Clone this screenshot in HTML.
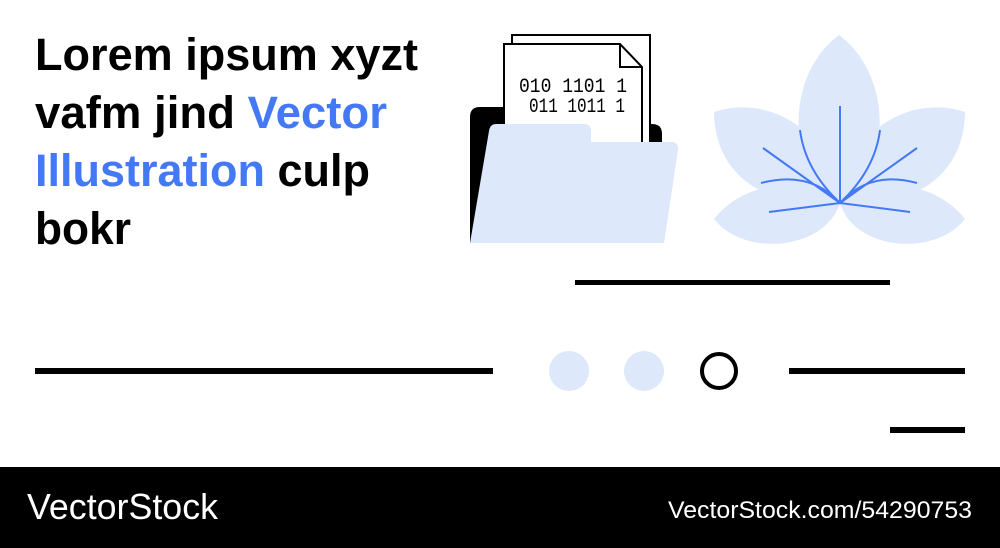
<!DOCTYPE html>
<html><head><meta charset="utf-8"><style>
html,body{margin:0;padding:0;background:#fff;}
svg{display:block;}
</style></head><body>
<svg width="1000" height="548" viewBox="0 0 1000 548" xmlns="http://www.w3.org/2000/svg">
<rect width="1000" height="548" fill="#fff"/>
<g font-family="Liberation Sans, sans-serif" font-weight="bold" font-size="45" fill="#000">
<text x="35" y="70" textLength="383" lengthAdjust="spacingAndGlyphs">Lorem ipsum xyzt</text>
<text x="35" y="128" textLength="352" lengthAdjust="spacingAndGlyphs">vafm jind <tspan fill="#4479f6">Vector</tspan></text>
<text x="35" y="186" textLength="335" lengthAdjust="spacingAndGlyphs"><tspan fill="#4479f6">Illustration</tspan> culp</text>
<text x="35" y="244" textLength="96" lengthAdjust="spacingAndGlyphs">bokr</text>
</g>
<!-- folder -->
<path d="M480,107 H560 Q566,107 566,113 V124 H652 Q662,124 662,134 V243 H470 V117 Q470,107 480,107 Z" fill="#000"/>
<rect x="512" y="35" width="138" height="150" fill="#fff" stroke="#000" stroke-width="2"/>
<path d="M504,44 H620 L642,67 V190 H504 Z" fill="#fff" stroke="#000" stroke-width="2"/>
<path d="M620,44 V67 H642" fill="none" stroke="#000" stroke-width="2"/>
<g font-family="Liberation Mono, monospace" font-size="20" fill="#000">
<text x="519" y="92" textLength="108" lengthAdjust="spacingAndGlyphs">010 1101 1</text>
<text x="529" y="112" textLength="96" lengthAdjust="spacingAndGlyphs">011 1011 1</text>
</g>
<path d="M496,124 H584 Q591,124 591,131 V142 H671 Q679,142 678,150 L664,243 H470 L489,131 Q490,124 496,124 Z" fill="#dde8fa"/>
<!-- leaf -->
<g fill="#dde8fa">
<path d="M840,203 C785,170 785,75 839,35 C893,75 893,170 840,203 Z"/>
<path d="M714,112 C765,95 830,125 840,203 C780,210 715,185 714,112 Z"/>
<path d="M965,112 C914,95 849,125 840,203 C899,210 964,185 965,112 Z"/>
<path d="M714,219 C745,180 805,175 840,203 C825,250 745,258 714,219 Z"/>
<path d="M965,219 C934,180 874,175 840,203 C854,250 934,258 965,219 Z"/>
</g>
<g fill="none" stroke="#4479f6" stroke-width="2">
<path d="M840,106 V203"/>
<path d="M763,148 L840,203 L917,148"/>
<path d="M800,130 Q805,170 840,203 Q875,170 880,130"/>
<path d="M761,183 Q810,170 840,203 Q870,170 917,183"/>
<path d="M769,212 L840,203 L910,212"/>
</g>
<!-- lines -->
<g fill="#000">
<rect x="575" y="280" width="315" height="5"/>
<rect x="35" y="368" width="458" height="6"/>
<rect x="789" y="368" width="176" height="6"/>
<rect x="890" y="427" width="75" height="6"/>
</g>
<circle cx="569" cy="371" r="20" fill="#dde8fa"/>
<circle cx="644" cy="371" r="20" fill="#dde8fa"/>
<circle cx="719" cy="371" r="17" fill="none" stroke="#000" stroke-width="4"/>
<!-- footer -->
<rect x="0" y="467" width="1000" height="81" fill="#000"/>
<g font-family="Liberation Sans, sans-serif" fill="#fff">
<text x="27" y="519" font-size="36" textLength="191" lengthAdjust="spacingAndGlyphs">VectorStock</text>
<text x="668" y="518" font-size="24" textLength="304" lengthAdjust="spacingAndGlyphs">VectorStock.com/54290753</text>
</g>
</svg>
</body></html>
